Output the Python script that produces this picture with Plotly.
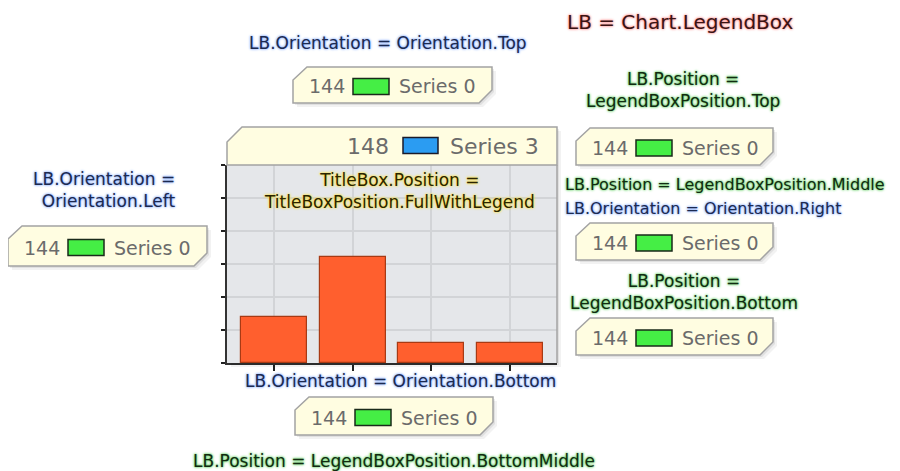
import plotly.graph_objects as go

# ---- data ----
categories = ["Item 0", "Item 1", "Item 2", "Item 3"]
values = [14, 32, 6, 6]
main_legend_value = "148"
main_legend_name = "Series 3"
small_legend_value = "144"
small_legend_name = "Series 0"

# page body has an 8px margin: the figure is sized/offset to fill the 900x471 window
OFF = 8
W, H = 900 - OFF, 471 - OFF


def fx(x):
    return (x - OFF) / W


def fy(y):
    return 1 - (y - OFF) / H


fig = go.Figure(
    go.Bar(
        x=list(range(len(categories))),
        y=values,
        width=0.84,
        marker=dict(color="#ff5f2e", line=dict(color="#a83a14", width=1.2)),
        hovertext=categories,
    )
)

shapes = []
annotations = []

BOX_FILL = "#fffde1"
BOX_LINE = "#a3a3a3"


def poly(points, **kw):
    d = "M " + " L ".join(f"{fx(x):.5f} {fy(y):.5f}" for x, y in points) + " Z"
    shapes.append(dict(type="path", path=d, xref="paper", yref="paper", **kw))


def small_box(L, T, R, B, value, name):
    pts = [(L + 14, T), (R, T), (R, B - 13), (R - 13, B), (L, B), (L, T + 13)]
    # soft shadow
    poly([(x + 4, y + 4) for x, y in pts], fillcolor="rgba(0,0,0,0.05)", line=dict(width=0), layer="below")
    poly([(x + 2, y + 2) for x, y in pts], fillcolor="rgba(0,0,0,0.07)", line=dict(width=0), layer="below")
    poly(pts, fillcolor=BOX_FILL, line=dict(color=BOX_LINE, width=1.5))
    cy = (T + B) / 2 + 1.5
    shapes.append(dict(type="rect", xref="paper", yref="paper",
                       x0=fx(L + 60), x1=fx(L + 96), y0=fy(cy - 8), y1=fy(cy + 8),
                       fillcolor="#45ee45", line=dict(color="#1a2a1a", width=1.5)))
    annotations.append(dict(x=fx(L + 14), y=fy(cy), xref="paper", yref="paper",
                            xanchor="left", yanchor="middle", showarrow=False,
                            text=value, font=dict(family="DejaVu Sans", size=19, color="#6b6b6b")))
    annotations.append(dict(x=fx(L + 104), y=fy(cy), xref="paper", yref="paper",
                            xanchor="left", yanchor="middle", showarrow=False,
                            text=name, font=dict(family="DejaVu Sans", size=19, color="#6b6b6b")))


# ---- main chart box (legend bar + plot) ----
CL, CT, CR, CB = 227, 127, 557, 363
for d, a in ((4, 0.05), (2, 0.07)):
    poly([(CR, CT + d), (CR + d, CT + d), (CR + d, CB + d), (CL + d, CB + d), (CL + d, CB), (CR, CB)],
         fillcolor=f"rgba(0,0,0,{a})", line=dict(width=0))
poly([(CL + 15, CT), (CR, CT), (CR, 165), (CL, 165), (CL, CT + 15)],
     fillcolor=BOX_FILL, line=dict(color=BOX_LINE, width=1.5))
shapes.append(dict(type="line", xref="paper", yref="paper", x0=fx(CR), x1=fx(CR),
                   y0=fy(165), y1=fy(CB), line=dict(color=BOX_LINE, width=1.5)))
shapes.append(dict(type="rect", xref="paper", yref="paper",
                   x0=fx(403), x1=fx(438), y0=fy(153.5), y1=fy(137.5),
                   fillcolor="#2b9cf2", line=dict(color="#1a1a2a", width=1.5)))
annotations.append(dict(x=fx(391), y=fy(146.5), xref="paper", yref="paper",
                        xanchor="right", yanchor="middle", showarrow=False, text=main_legend_value,
                        font=dict(family="DejaVu Sans", size=22, color="#6b6b6b")))
annotations.append(dict(x=fx(448), y=fy(146.5), xref="paper", yref="paper",
                        xanchor="left", yanchor="middle", showarrow=False, text=main_legend_name,
                        font=dict(family="DejaVu Sans", size=22, color="#6b6b6b")))

# ---- small legend boxes ----
small_box(293, 67, 492, 103, small_legend_value, small_legend_name)
small_box(8, 226, 207, 266, small_legend_value, small_legend_name)
small_box(576, 128, 773, 165, small_legend_value, small_legend_name)
small_box(576, 223, 773, 260, small_legend_value, small_legend_name)
small_box(576, 318, 773, 355, small_legend_value, small_legend_name)
small_box(295, 397, 493, 435, small_legend_value, small_legend_name)


# ---- glowing labels ----
def glow(color, halo, size=17):
    return dict(family="DejaVu Sans", size=size, color=color,
                shadow=f"0 0 2px {halo}, 0 0 3px {halo}")


BLUE = glow("#1c2a50", "#86adff")
GREEN = glow("#122a12", "#5fcf5f")
BLUE_S = glow("#1c2a50", "#86adff", 16)
GREEN_S = glow("#122a12", "#5fcf5f", 16)
YELLOW = glow("#2a2400", "#ffe23a")
RED = glow("#3a1414", "#ff8a8a", 20)


def label(x, y, text, font, xanchor="center", align="center"):
    annotations.append(dict(x=fx(x), y=fy(y), xref="paper", yref="paper", xanchor=xanchor,
                            yanchor="middle", align=align, showarrow=False, text=text, font=font))


label(680, 22, "LB = Chart.LegendBox", RED)
label(388, 43, "LB.Orientation = Orientation.Top", BLUE)
label(683, 90, "LB.Position =<br>LegendBoxPosition.Top", GREEN)
label(177, 190, "LB.Orientation =<br>Orientation.Left", BLUE, xanchor="right", align="right")
label(399, 191, "TitleBox.Position =<br>TitleBoxPosition.FullWithLegend", YELLOW)
label(563, 185, "LB.Position = LegendBoxPosition.Middle", GREEN_S, xanchor="left")
label(563, 208, "LB.Orientation = Orientation.Right", BLUE_S, xanchor="left")
label(684, 292, "LB.Position =<br>LegendBoxPosition.Bottom", GREEN)
label(400, 381, "LB.Orientation = Orientation.Bottom", BLUE)
label(394, 461, "LB.Position = LegendBoxPosition.BottomMiddle", GREEN)

fig.update_layout(
    width=W, height=H, autosize=False,
    margin=dict(l=0, r=0, t=0, b=0),
    paper_bgcolor="white",
    plot_bgcolor="#e5e7ea",
    showlegend=False,
    bargap=0,
    shapes=shapes,
    annotations=annotations,
    xaxis=dict(domain=[fx(CL), fx(CR)], range=[-0.6, 3.6],
               tickvals=list(range(len(categories))), showticklabels=False,
               ticks="outside", ticklen=6, tickwidth=1.5, tickcolor="#222",
               showgrid=True, gridcolor="#d2d4d7", gridwidth=1.5,
               showline=True, linecolor="#333", linewidth=1.5, zeroline=False, fixedrange=True),
    yaxis=dict(domain=[fy(CB), fy(165)], range=[0, 60], dtick=10,
               showticklabels=False, ticks="outside", ticklen=4, tickwidth=1.5, tickcolor="#222",
               showgrid=True, gridcolor="#d2d4d7", gridwidth=1.5,
               showline=True, linecolor="#333", linewidth=1.5, zeroline=False, fixedrange=True),
)

fig.write_html("out.html")
